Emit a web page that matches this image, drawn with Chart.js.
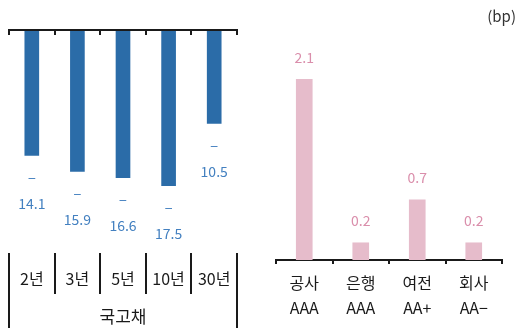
<!DOCTYPE html>
<html>
<head>
<meta charset="utf-8">
<script src="https://cdn.jsdelivr.net/npm/chart.js@4"></script>
<style>
  html, body { margin: 0; padding: 0; background: #fff; }
  #wrap { position: relative; width: 517px; height: 328px; overflow: hidden; }
  #left { position: absolute; left: 0; top: 0; }
  #right { position: absolute; left: 260px; top: 0; }
  #unit { position: absolute; right: 1px; top: 5px; font: 15px "Noto Sans CJK KR", "Noto Sans", sans-serif; color: #333; }
</style>
</head>
<body>
<div id="wrap">
  <canvas id="left" width="250" height="328"></canvas>
  <canvas id="right" width="257" height="328"></canvas>
  <div id="unit">(bp)</div>
</div>
<script>
// Treasury (국고채) spread change by maturity
const treasuryLabels = ['2년', '3년', '5년', '10년', '30년'];
const treasuryGroup = '국고채';
const treasuryValues = [-14.1, -15.9, -16.6, -17.5, -10.5];

// Credit spread change by issuer / rating
const creditLabels = [['공사', 'AAA'], ['은행', 'AAA'], ['여전', 'AA+'], ['회사', 'AA−']];
const creditValues = [2.1, 0.2, 0.7, 0.2];

const FONT = '"Noto Sans CJK KR", "Noto Sans", sans-serif';
const BLUE = '#2b6ca8';
const BLUE_TEXT = '#4380c0';
const PINK = '#e6bccb';
const PINK_TEXT = '#da8eab';
const INK = '#1a1a1a';

// Left panel: zero line on top with inward ticks, labels under each bar,
// and a boxed category row at the bottom.
const treasuryFrame = {
  id: 'treasuryFrame',
  afterDatasetsDraw(chart) {
    const ctx = chart.ctx;
    const x = chart.scales.x, y = chart.scales.y;
    const area = chart.chartArea;
    const n = treasuryLabels.length;
    const step = (area.right - area.left) / n;
    const y0 = y.getPixelForValue(0);
    ctx.save();
    ctx.strokeStyle = INK;
    ctx.lineWidth = 2;
    ctx.beginPath();
    ctx.moveTo(area.left, y0);
    ctx.lineTo(area.right, y0);
    for (let i = 0; i <= n; i++) {
      const bx = Math.round(x.getPixelForValue(0) - step / 2 + i * step);
      ctx.moveTo(bx, y0 - 1);
      ctx.lineTo(bx, y0 + 5);
    }
    ctx.stroke();

    // value labels: minus sign on one line, magnitude on the next
    ctx.fillStyle = BLUE_TEXT;
    ctx.textAlign = 'center';
    ctx.textBaseline = 'middle';
    ctx.font = '14px ' + FONT;
    const meta = chart.getDatasetMeta(0);
    meta.data.forEach((bar, i) => {
      const v = treasuryValues[i];
      const by = y.getPixelForValue(v);
      ctx.fillText('−', bar.x, by + 23);
      ctx.fillText(Math.abs(v).toFixed(1), bar.x, by + 48);
    });

    // boxed category row
    const top = 253, innerBottom = 294, outerBottom = 328;
    ctx.strokeStyle = INK;
    ctx.lineWidth = 2;
    ctx.beginPath();
    for (let i = 0; i <= n; i++) {
      const bx = Math.round(x.getPixelForValue(0) - step / 2 + i * step);
      ctx.moveTo(bx, top);
      ctx.lineTo(bx, (i === 0 || i === n) ? outerBottom : innerBottom);
    }
    ctx.stroke();
    ctx.fillStyle = INK;
    ctx.font = '16px ' + FONT;
    treasuryLabels.forEach((t, i) => {
      ctx.fillText(t, x.getPixelForValue(i), 279);
    });
    ctx.font = '17px ' + FONT;
    ctx.fillText(treasuryGroup, (area.left + area.right) / 2, 317);
    ctx.restore();
  }
};

new Chart(document.getElementById('left'), {
  type: 'bar',
  data: {
    labels: treasuryLabels,
    datasets: [{ data: treasuryValues, backgroundColor: BLUE, barThickness: 14 }]
  },
  options: {
    responsive: false,
    animation: false,
    events: [],
    layout: { padding: { left: 9, right: 13, top: 30, bottom: 120 } },
    plugins: { legend: { display: false }, tooltip: { enabled: false } },
    scales: {
      x: { display: false, offset: true },
      y: { display: false, min: -20, max: 0 }
    }
  },
  plugins: [treasuryFrame]
});

// Right panel: value labels above bars
const creditValueLabels = {
  id: 'creditValueLabels',
  afterDatasetsDraw(chart) {
    const ctx = chart.ctx;
    const y = chart.scales.y;
    ctx.save();
    ctx.fillStyle = PINK_TEXT;
    ctx.textAlign = 'center';
    ctx.textBaseline = 'middle';
    ctx.font = '14px ' + FONT;
    chart.getDatasetMeta(0).data.forEach((bar, i) => {
      const v = creditValues[i];
      ctx.fillText(v.toFixed(1), bar.x, y.getPixelForValue(v) - 22);
    });
    ctx.restore();
  }
};

new Chart(document.getElementById('right'), {
  type: 'bar',
  data: {
    labels: creditLabels,
    datasets: [{ data: creditValues, backgroundColor: PINK, barThickness: 16 }]
  },
  options: {
    responsive: false,
    animation: false,
    events: [],
    layout: { padding: { left: 16, right: 15, top: 2, bottom: 2 } },
    plugins: { legend: { display: false }, tooltip: { enabled: false } },
    scales: {
      x: {
        offset: true,
        grid: { offset: true, drawOnChartArea: false, drawTicks: true, tickLength: 4, color: INK, lineWidth: 2 },
        border: { display: true, color: INK, width: 2 },
        ticks: { color: INK, padding: 6, maxRotation: 0, autoSkip: false, font: { family: FONT, size: 16, lineHeight: 25 / 16 } }
      },
      y: { display: false, min: 0, max: 3 }
    }
  },
  plugins: [creditValueLabels]
});
</script>
</body>
</html>
